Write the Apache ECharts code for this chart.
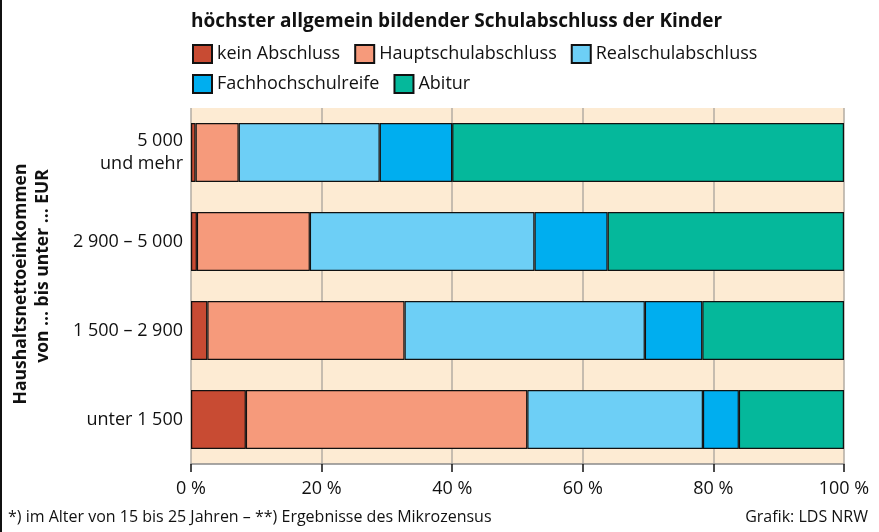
<!DOCTYPE html>
<html>
<head>
<meta charset="utf-8">
<script src="https://cdn.jsdelivr.net/npm/echarts@6/dist/echarts.min.js"></script>
<style>
  html, body { margin: 0; padding: 0; background: #fff; }
  #chart { width: 879px; height: 532px; }
</style>
</head>
<body>
<div id="chart"></div>
<script>
// Einkommensklassen (unten nach oben)
const categories = ['unter 1 500', '1 500 – 2 900', '2 900 – 5 000', '5 000\nund mehr']
const seriesNames = ['kein Abschluss', 'Hauptschulabschluss', 'Realschulabschluss', 'Fachhochschulreife', 'Abitur']
const keinAbschluss = [8.4, 2.5, 0.9, 0.7]
const hauptschule = [43.1, 30.2, 17.3, 6.6]
const realschule = [26.9, 36.8, 34.4, 21.6]
const fachhochschulreife = [5.5, 8.8, 11.2, 11.1]
const abitur = [16.1, 21.7, 36.2, 60.0]
const xTicks = [0, 20, 40, 60, 80, 100]

const colors = ['#c84b33', '#f69a7b', '#6dcff6', '#00aeef', '#05b89b']
const values = [keinAbschluss, hauptschule, realschule, fachhochschulreife, abitur]
const font = 'Open Sans'

const chart = echarts.init(document.getElementById('chart'))

const legendBase = {
  left: 192,
  orient: 'horizontal',
  itemWidth: 19,
  itemHeight: 18,
  itemGap: 14,
  padding: 0,
  icon: 'rect',
  textStyle: { fontFamily: font, fontSize: 18, color: '#111' },
  selectedMode: false
}

const option = {
  animation: false,
  backgroundColor: '#fff',
  title: {
    text: 'höchster allgemein bildender Schulabschluss der Kinder',
    left: 191,
    top: 12,
    padding: 0,
    textStyle: { fontFamily: font, fontSize: 19, fontWeight: 'bold', color: '#111' }
  },
  legend: [
    Object.assign({}, legendBase, { top: 44, data: seriesNames.slice(0, 3) }),
    Object.assign({}, legendBase, { top: 74, data: seriesNames.slice(3) })
  ],
  grid: {
    left: 191,
    right: 35,
    top: 108,
    bottom: 68,
    show: true,
    backgroundColor: '#fdebd3',
    borderWidth: 0
  },
  xAxis: {
    type: 'value',
    min: 0,
    max: 100,
    interval: 20,
    axisLine: { show: true, lineStyle: { color: '#8a8a8a', width: 1.5 } },
    axisTick: { show: true, length: 8, lineStyle: { color: '#111', width: 1.5 } },
    axisLabel: {
      fontFamily: font, fontSize: 18, color: '#111', margin: 16,
      formatter: v => xTicks.includes(v) ? v + ' %' : ''
    },
    splitLine: { show: true, lineStyle: { color: '#b3aca3', width: 1.5 } }
  },
  yAxis: {
    type: 'category',
    data: categories,
    axisLine: { show: false },
    axisTick: { show: false },
    axisLabel: {
      fontFamily: font, fontSize: 18, color: '#111', margin: 8,
      align: 'right', lineHeight: 23
    }
  },
  graphic: [
    { type: 'rect', shape: { x: 0, y: 0, width: 2, height: 532 }, style: { fill: '#111' } },
    {
      type: 'text', x: 21, y: 284, rotation: Math.PI / 2,
      style: {
        text: 'Haushaltsnettoeinkommen', fontFamily: font, fontSize: 17.5, fontWeight: 'bold',
        fill: '#111', align: 'center', verticalAlign: 'middle'
      }
    },
    {
      type: 'text', x: 43, y: 266, rotation: Math.PI / 2,
      style: {
        text: 'von … bis unter … EUR', fontFamily: font, fontSize: 17.5, fontWeight: 'bold',
        fill: '#111', align: 'center', verticalAlign: 'middle'
      }
    },
    {
      type: 'text', left: 8, top: 509,
      style: {
        text: '*) im Alter von 15 bis 25 Jahren – **) Ergebnisse des Mikrozensus',
        fontFamily: font, fontSize: 16, fill: '#111'
      }
    },
    {
      type: 'text', right: 11, top: 509,
      style: { text: 'Grafik: LDS NRW', fontFamily: font, fontSize: 16, fill: '#111' }
    }
  ],
  series: seriesNames.map((name, i) => ({
    name: name,
    type: 'bar',
    stack: 'total',
    barWidth: 59,
    data: values[i],
    itemStyle: { color: colors[i], borderColor: '#111', borderWidth: 1.2 }
  }))
}

chart.setOption(option)
</script>
</body>
</html>
